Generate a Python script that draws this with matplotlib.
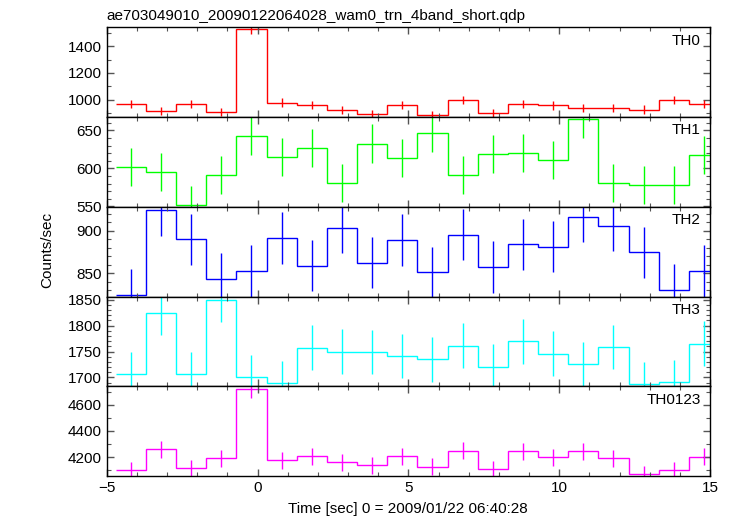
import matplotlib
matplotlib.use("Agg")
import matplotlib.pyplot as plt
from matplotlib.ticker import MultipleLocator
import numpy as np

plt.rcParams['font.family'] = ['Liberation Sans', 'DejaVu Sans']

title = "ae703049010_20090122064028_wam0_trn_4band_short.qdp"
xlabel = "Time [sec] 0 = 2009/01/22 06:40:28"
ylabel = "Counts/sec"

time_centers = [-4.2, -3.2, -2.2, -1.2, -0.2, 0.8, 1.8, 2.8, 3.8, 4.8,
                5.8, 6.8, 7.8, 8.8, 9.8, 10.8, 11.8, 12.8, 13.8, 14.8]
bin_width = 1.0

panel_names = ["TH0", "TH1", "TH2", "TH3", "TH0123"]

th0 = [968, 918, 968, 908, 1526, 980, 960, 923, 893, 960,
       888, 998, 903, 970, 958, 938, 940, 928, 998, 968]
th0_err = [31, 31, 31, 31, 39, 31, 31, 31, 31, 31,
           31, 31, 31, 31, 31, 31, 31, 31, 31, 31]

th1 = [601.7, 594.7, 552, 591.6, 642.8, 615.5, 627.4, 581, 632.7, 613.2,
       646, 591.6, 619.4, 620.3, 611.5, 664.6, 581, 578.4, 578.4, 617.2]
th1_err = [25] * 20

th2 = [824.6, 924.2, 889.8, 843.7, 852.7, 891.4, 859, 903.5, 862.5, 889,
       851.1, 895, 857.4, 884, 880.9, 916.4, 905.9, 874.6, 830.8, 852.7]
th2_err = [30] * 20

th3 = [1705.7, 1825, 1706.3, 1850, 1700.6, 1688.5, 1757.7, 1750, 1749, 1741.5,
       1734.6, 1761.5, 1721, 1769.8, 1746, 1725, 1758.8, 1686.5, 1691, 1765.4]
th3_err = [43] * 20

th0123 = [4098, 4259, 4116, 4192, 4724, 4175, 4205, 4160, 4137, 4205,
          4124, 4248, 4106, 4243, 4198, 4243, 4190, 4068, 4098, 4202]
th0123_err = [65, 65, 65, 65, 70, 65, 65, 65, 65, 65,
              65, 65, 65, 65, 65, 65, 65, 65, 65, 65]

series = [th0, th1, th2, th3, th0123]
errors = [th0_err, th1_err, th2_err, th3_err, th0123_err]
colors = ["#ff0000", "#00ff00", "#0000ff", "#00ffff", "#ff00ff"]
ylims = [(872, 1540), (549.5, 667.5), (822.7, 928), (1683, 1856), (4055, 4742)]
major_steps = [200, 50, 50, 50, 200]
minor_steps = [100, 10, 10, 10, 100]

fig = plt.figure(figsize=(7.33, 5.16), dpi=100)
left, right = 106.7 / 733, 710 / 733
top_px, bot_px = 27.3, 476
ph = (bot_px - top_px) / 5
axes = []
for i in range(5):
    y0 = 1 - (top_px + (i + 1) * ph) / 516
    ax = fig.add_axes([left, y0, right - left, ph / 516])
    axes.append(ax)

centers = np.array(time_centers)
edges = np.concatenate([centers - bin_width / 2, [centers[-1] + bin_width / 2]])

for i, ax in enumerate(axes):
    vals = np.array(series[i])
    ax.stairs(vals, edges, color=colors[i], lw=1.0, baseline=None)
    ax.errorbar(centers, vals, yerr=errors[i], fmt='none', ecolor=colors[i], elinewidth=1.0, capsize=0)
    ax.set_xlim(-5, 15)
    ax.set_ylim(*ylims[i])
    ax.xaxis.set_major_locator(MultipleLocator(5))
    ax.xaxis.set_minor_locator(MultipleLocator(1))
    ax.yaxis.set_major_locator(MultipleLocator(major_steps[i]))
    ax.yaxis.set_minor_locator(MultipleLocator(minor_steps[i]))
    ax.tick_params(which='both', direction='in', top=True, right=True, labelsize=11, color='#555555')
    ax.tick_params(which='major', length=5, width=1)
    ax.tick_params(which='minor', length=3, width=0.8)
    for s in ax.spines.values():
        s.set_linewidth(1.0)
    if i < 4:
        ax.tick_params(labelbottom=False)
    ax.text(0.985, 0.93, panel_names[i], transform=ax.transAxes, ha='right', va='top', fontsize=11)

axes[0].set_title(title, loc='left', fontsize=11, pad=5)
axes[-1].set_xlabel(xlabel, fontsize=11, labelpad=5)
fig.text(47 / 733, 1 - 250 / 516, ylabel, rotation=90, ha='center', va='center', fontsize=11)

fig.savefig("out.png", dpi=100)
